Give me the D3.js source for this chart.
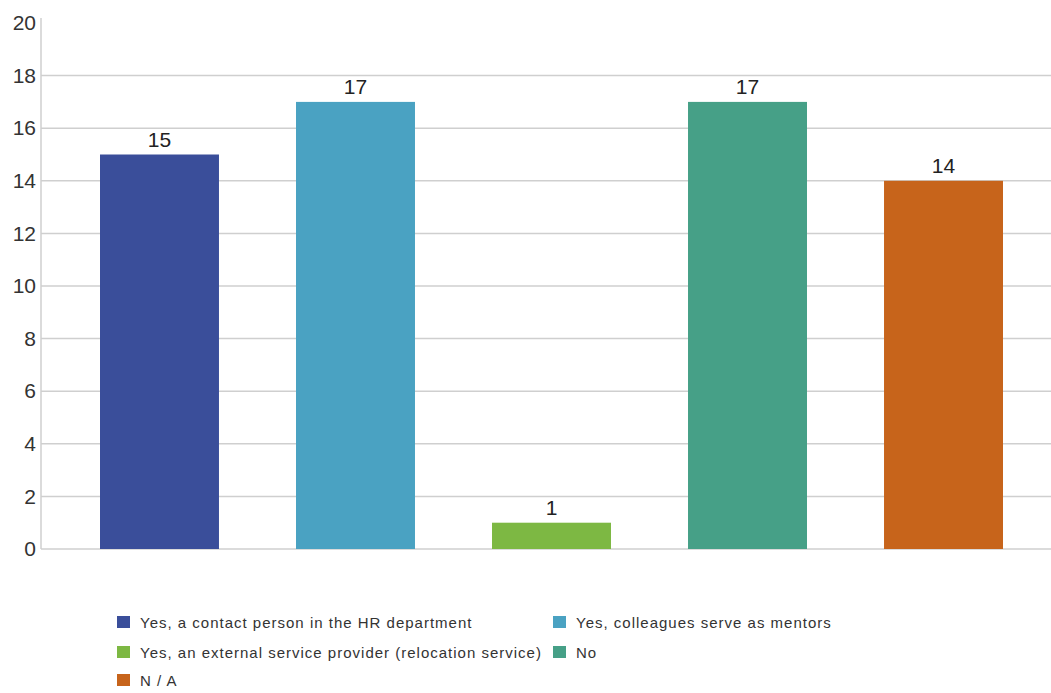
<!DOCTYPE html>
<html><head><meta charset="utf-8">
<script src="https://cdn.jsdelivr.net/npm/d3@7"></script>
<style>
body{margin:0;background:#fff;}
text{font-family:"Liberation Sans",Arial,sans-serif;}
</style></head>
<body><svg id="c" width="1051" height="693"></svg>
<script>
const categories = ["Yes, a contact person in the HR department","Yes, colleagues serve as mentors","Yes, an external service provider (relocation service)","No","N / A"];
const values = [15, 17, 1, 17, 14];
const colors = ["#3a4e9a","#4aa2c2","#7db843","#46a087","#c7641b"];
const yTicks = [0,2,4,6,8,10,12,14,16,18,20];

const svg = d3.select("#c");
const x0 = 41, x1 = 1062, yTop = 23, yBot = 549;
const x = d3.scaleBand().domain(categories).range([x0, x1]).paddingInner(0.393).paddingOuter(0.301);
const y = d3.scaleLinear().domain([0, 20]).range([yBot, yTop]);

// gridlines
svg.append("g").selectAll("line").data(yTicks.filter(t => t > 0 && t < 20)).join("line")
  .attr("x1", x0).attr("x2", 1051).attr("y1", d => y(d)).attr("y2", d => y(d))
  .attr("stroke", "#cfcfcf").attr("stroke-width", 1.5);

// axis
const ax = svg.append("g").attr("transform", `translate(${x0},0)`)
  .call(d3.axisLeft(y).tickValues(yTicks).tickSize(0).tickPadding(5));
ax.select(".domain").remove();
ax.append("line").attr("x1", 0).attr("x2", 0).attr("y1", yTop - 5).attr("y2", yBot).attr("stroke", "#cfcfcf").attr("stroke-width", 1.5);
ax.selectAll(".tick text").attr("font-size", 21).attr("fill", "#333").attr("font-family", "'Liberation Sans',Arial,sans-serif");
svg.append("line").attr("x1", x0).attr("x2", 1051).attr("y1", yBot).attr("y2", yBot).attr("stroke", "#cfcfcf").attr("stroke-width", 1.5);

// bars
svg.append("g").selectAll("rect").data(values).join("rect")
  .attr("x", (d, i) => x(categories[i])).attr("width", x.bandwidth())
  .attr("y", d => y(d)).attr("height", d => y(0) - y(d))
  .attr("fill", (d, i) => colors[i]);

svg.append("g").selectAll("text").data(values).join("text")
  .attr("x", (d, i) => x(categories[i]) + x.bandwidth() / 2)
  .attr("y", d => y(d) - 8)
  .attr("text-anchor", "middle").attr("font-size", 21).attr("fill", "#222")
  .text(d => d);

// legend
const legPos = [[117, 622], [553, 622], [117, 652], [553, 652], [117, 680]];
const lg = svg.append("g").selectAll("g").data(categories).join("g")
  .attr("transform", (d, i) => `translate(${legPos[i][0]},${legPos[i][1]})`);
lg.append("rect").attr("x", 0).attr("y", -6).attr("width", 13).attr("height", 12).attr("fill", (d, i) => colors[i]);
lg.append("text").attr("x", 23).attr("y", 6).attr("font-size", 15).attr("letter-spacing", 1).attr("fill", "#333").text(d => d);
</script></body></html>
